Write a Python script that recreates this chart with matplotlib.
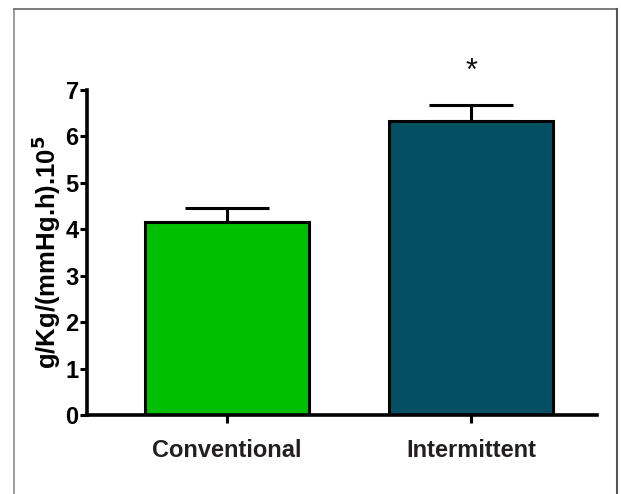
import matplotlib
matplotlib.use("Agg")
import matplotlib.pyplot as plt
from matplotlib.lines import Line2D

categories = ["Conventional", "Intermittent"]
means = [4.15, 6.33]
errors = [0.30, 0.35]
colors = ["#00BF00", "#054F63"]
y_ticks = [0, 1, 2, 3, 4, 5, 6, 7]
ylabel = "g/Kg/(mmHg.h).10$^\\mathbf{5}$"

plt.rcParams['font.family'] = ['Liberation Sans', 'DejaVu Sans']

fig = plt.figure(figsize=(6.21, 4.94), dpi=100)
ax = fig.add_axes([87/621, 1-415/494, (597-87)/621, (415-90)/494])

x = list(range(len(categories)))
ax.bar(x, means, width=0.67, color=colors, edgecolor="black", linewidth=2.2, zorder=2)
for xi, m, e in zip(x, means, errors):
    ax.errorbar([xi], [m], yerr=[[0], [e]], fmt="none", ecolor="black",
                elinewidth=2.2, capsize=30, capthick=2.2, zorder=1)

ax.text(1, 7.4, "*", ha="center", va="center", fontsize=22, color="#111111", clip_on=False)

ax.set_xlim(-0.574, 1.516)
ax.set_ylim(0, 7)
ax.set_yticks(y_ticks)
ax.set_yticklabels([str(t) for t in y_ticks], fontsize=17, fontweight="bold")
ax.set_xticks(x)
ax.set_xticklabels(categories, fontsize=17, fontweight="bold", color="#231F20")
ax.tick_params(axis="y", length=5, width=2.2, pad=1)
ax.tick_params(axis="x", length=6, width=2.2, pad=11)
ax.spines["top"].set_visible(False)
ax.spines["right"].set_visible(False)
ax.spines["left"].set_linewidth(2.6)
ax.spines["bottom"].set_linewidth(2.6)
ax.set_ylabel(ylabel, fontsize=18.5, fontweight="bold", labelpad=2)

# outer frame
W, H = 621, 494
fig.add_artist(Line2D([14/W, 14/W], [0, 1-9/H], transform=fig.transFigure, color="#8c8c8c", lw=1.2))
fig.add_artist(Line2D([14/W, 617/W], [1-9/H, 1-9/H], transform=fig.transFigure, color="#666666", lw=1.2))
fig.add_artist(Line2D([617/W, 617/W], [0, 1-9/H], transform=fig.transFigure, color="#555555", lw=1.5))

fig.savefig("out.png", dpi=100)
